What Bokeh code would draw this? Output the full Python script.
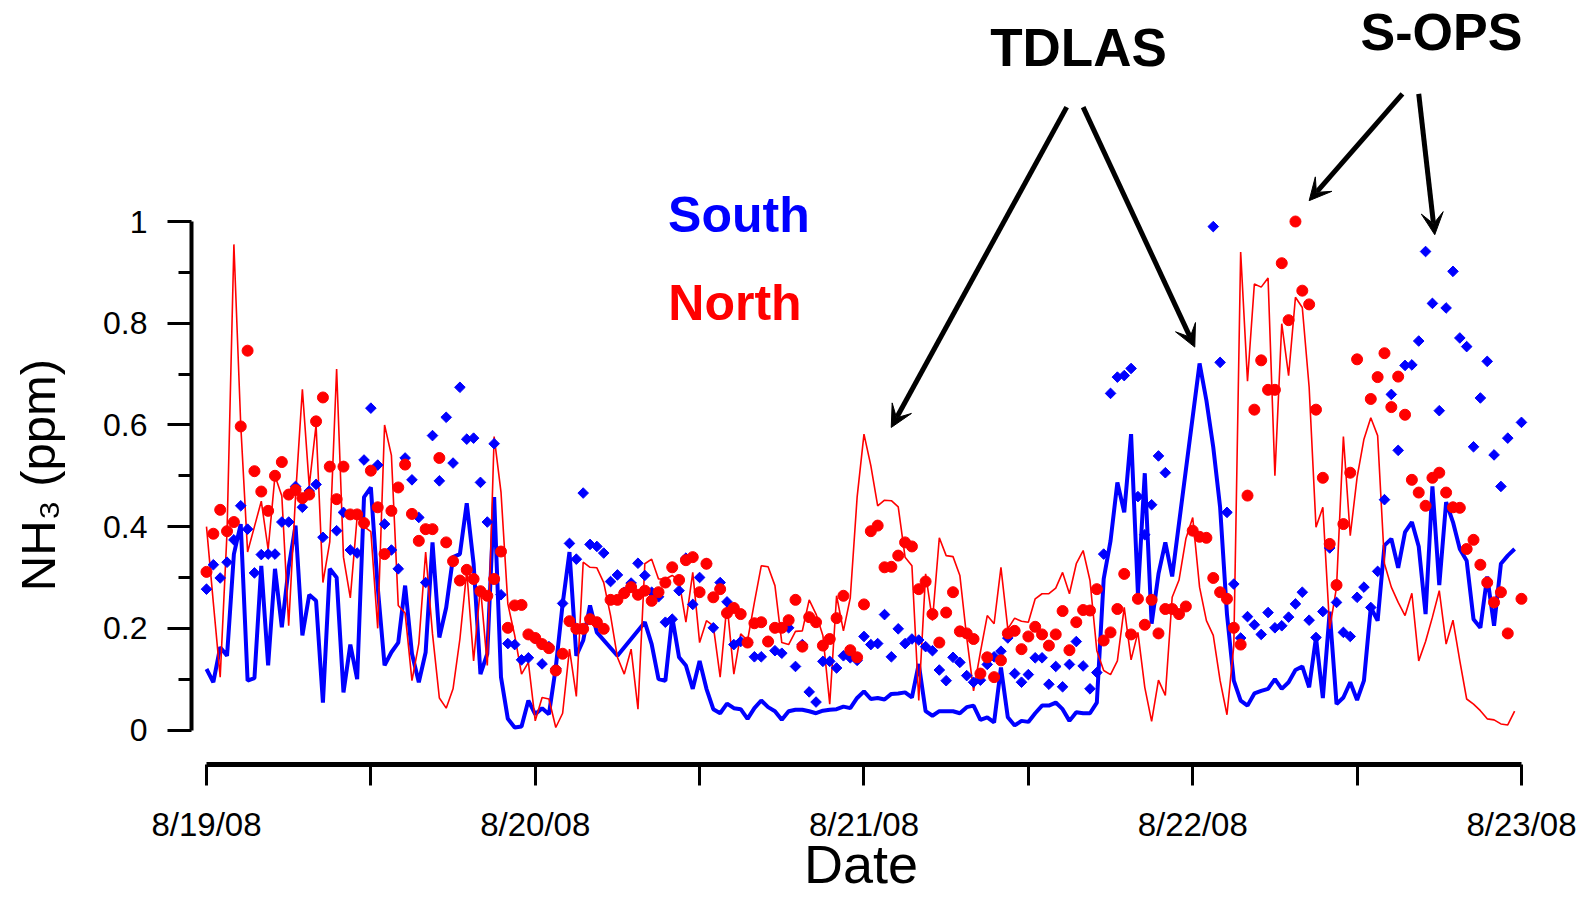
from bokeh.plotting import figure
from bokeh.models import Range1d, LinearAxis, FixedTicker, Arrow, VeeHead, Label, NumeralTickFormatter
from bokeh.embed import file_html
from bokeh.resources import INLINE


def half_hourly(start, end):
    """Sample times (hours after 8/19/08 00:00) of a 30-minute record."""
    n = int(round((end - start) / 0.5)) + 1
    return [start + 0.5 * i for i in range(n)]


# ---------------- data (hours after 8/19/08 00:00, NH3 in ppm) ----------------
south_tdlas_hours = half_hourly(0.0, 28.5) + [30.0] + half_hourly(32.0, 70.5) + half_hourly(72.5, 95.5)
south_tdlas_ppm = [
    0.12, 0.094, 0.163, 0.146, 0.346, 0.405, 0.097, 0.102, 0.323, 0.127,
    0.317, 0.202, 0.32, 0.402, 0.186, 0.266, 0.254, 0.054, 0.317, 0.30,
    0.074, 0.168, 0.10, 0.458, 0.477, 0.281, 0.127, 0.153, 0.172, 0.284,
    0.15, 0.094, 0.153, 0.369, 0.182, 0.241, 0.34, 0.346, 0.446, 0.327,
    0.11, 0.15, 0.458, 0.104, 0.022, 0.005, 0.007, 0.058, 0.031, 0.043,
    0.031, 0.123, 0.248, 0.35, 0.146, 0.176, 0.245, 0.192,
    0.146,
    0.212, 0.169, 0.10, 0.097, 0.222, 0.143, 0.127, 0.081, 0.136, 0.081,
    0.041, 0.033, 0.052, 0.043, 0.041, 0.022, 0.043, 0.058, 0.045, 0.037,
    0.02, 0.037, 0.04, 0.04, 0.037, 0.033, 0.038, 0.04, 0.041, 0.046,
    0.043, 0.063, 0.076, 0.061, 0.063, 0.06, 0.071, 0.072, 0.074, 0.064,
    0.13, 0.037, 0.028, 0.037, 0.037, 0.037, 0.033, 0.045, 0.048, 0.02,
    0.025, 0.015, 0.123, 0.025, 0.009, 0.018, 0.016, 0.033, 0.048, 0.048,
    0.054, 0.041, 0.018, 0.035, 0.033, 0.033, 0.054, 0.297, 0.372, 0.487,
    0.428, 0.582, 0.268, 0.505, 0.209, 0.307, 0.369, 0.302,
    0.721, 0.648, 0.556, 0.438, 0.228, 0.097, 0.058, 0.048, 0.072, 0.077,
    0.081, 0.10, 0.081, 0.094, 0.118, 0.125, 0.084, 0.182, 0.063, 0.233,
    0.051, 0.064, 0.094, 0.059, 0.097, 0.241, 0.215, 0.363, 0.376, 0.319,
    0.389, 0.409, 0.361, 0.228, 0.479, 0.285, 0.448, 0.409, 0.356, 0.333,
    0.218, 0.201, 0.302, 0.205, 0.327, 0.343, 0.356,
]

north_tdlas_hours = half_hourly(0.0, 95.5)
north_tdlas_ppm = [
    0.40, 0.25, 0.104, 0.39, 0.955, 0.60, 0.35, 0.40, 0.45, 0.355,
    0.50, 0.46, 0.205, 0.46, 0.67, 0.48, 0.60, 0.29, 0.37, 0.71,
    0.34, 0.26, 0.42, 0.40, 0.39, 0.20, 0.60, 0.54, 0.245, 0.23,
    0.097, 0.17, 0.35, 0.189, 0.063, 0.043, 0.081, 0.179, 0.313, 0.136,
    0.281, 0.127, 0.577, 0.468, 0.248, 0.186, 0.11, 0.133, 0.018, 0.064,
    0.061, 0.005, 0.033, 0.159, 0.066, 0.33, 0.32, 0.319, 0.29, 0.225,
    0.143, 0.11, 0.159, 0.041, 0.327, 0.336, 0.297, 0.297, 0.304, 0.294,
    0.212, 0.31, 0.172, 0.215, 0.205, 0.104, 0.248, 0.11, 0.189, 0.176,
    0.251, 0.323, 0.321, 0.284, 0.172, 0.168, 0.194, 0.195, 0.256, 0.228,
    0.186, 0.051, 0.264, 0.195, 0.26, 0.458, 0.582, 0.52, 0.441, 0.452,
    0.451, 0.439, 0.34, 0.323, 0.058, 0.307, 0.215, 0.378, 0.343, 0.341,
    0.304, 0.182, 0.077, 0.153, 0.225, 0.209, 0.32, 0.199, 0.22, 0.214,
    0.212, 0.258, 0.268, 0.268, 0.279, 0.31, 0.268, 0.327, 0.353, 0.294,
    0.156, 0.117, 0.109, 0.136, 0.241, 0.138, 0.192, 0.084, 0.017, 0.098,
    0.068, 0.261, 0.295, 0.376, 0.418, 0.281, 0.215, 0.186, 0.097, 0.03,
    0.166, 0.94, 0.686, 0.877, 0.871, 0.889, 0.50, 0.799, 0.697, 0.851,
    0.831, 0.674, 0.399, 0.438, 0.199, 0.281, 0.577, 0.382, 0.497, 0.572,
    0.614, 0.579, 0.327, 0.281, 0.251, 0.225, 0.269, 0.136, 0.174, 0.222,
    0.274, 0.169, 0.216, 0.136, 0.061, 0.051, 0.038, 0.022, 0.02, 0.012,
    0.01, 0.037,
]

south_sops_hours = half_hourly(0.0, 8.5) + half_hourly(9.5, 70.0) + half_hourly(73.5, 95.0) + [96.0]
south_sops_ppm = [
    0.277, 0.325, 0.299, 0.33, 0.374, 0.441, 0.395, 0.309, 0.345, 0.346,
    0.346, 0.409, 0.409, 0.479, 0.438, 0.47, 0.483, 0.379,
    0.392, 0.428, 0.354, 0.348, 0.531, 0.633, 0.521, 0.405, 0.354, 0.317,
    0.535, 0.492, 0.418, 0.29, 0.579, 0.49, 0.615, 0.525, 0.674, 0.572,
    0.574, 0.487, 0.409, 0.563, 0.266, 0.17, 0.168, 0.138, 0.142, 0.18,
    0.13, 0.164, 0.121, 0.249, 0.367, 0.336, 0.466, 0.365, 0.361, 0.348,
    0.292, 0.305, 0.271, 0.289, 0.328, 0.304, 0.271, 0.262, 0.212, 0.218,
    0.274, 0.338, 0.247, 0.30, 0.327, 0.201, 0.29, 0.252, 0.168, 0.174,
    0.172, 0.144, 0.144, 0.174, 0.156, 0.151, 0.201, 0.125, 0.168, 0.075,
    0.055, 0.135, 0.135, 0.122, 0.146, 0.142, 0.137, 0.184, 0.168, 0.17,
    0.227, 0.144, 0.199, 0.17, 0.179, 0.177, 0.164, 0.156, 0.118, 0.097,
    0.143, 0.133, 0.107, 0.094, 0.098, 0.129, 0.144, 0.155, 0.181, 0.111,
    0.094, 0.109, 0.142, 0.142, 0.09, 0.125, 0.085, 0.129, 0.174, 0.126,
    0.081, 0.113, 0.346, 0.662, 0.694, 0.697, 0.711, 0.459, 0.384, 0.443,
    0.539, 0.506,
    0.99, 0.723, 0.428, 0.287, 0.181, 0.223, 0.207, 0.188, 0.231, 0.201,
    0.205, 0.222, 0.248, 0.271, 0.216, 0.182, 0.233, 0.358, 0.251, 0.192,
    0.184, 0.261, 0.281, 0.241, 0.312, 0.453, 0.66, 0.55, 0.717, 0.718,
    0.765, 0.941, 0.839, 0.628, 0.83, 0.902, 0.771, 0.754, 0.557, 0.653,
    0.725, 0.541, 0.479, 0.574,
    0.605,
]

north_sops_hours = half_hourly(0.0, 84.0) + half_hourly(85.0, 95.0) + [96.0]
north_sops_ppm = [
    0.311, 0.386, 0.433, 0.391, 0.409, 0.597, 0.746, 0.509, 0.469, 0.431,
    0.50, 0.527, 0.463, 0.472, 0.456, 0.463, 0.607, 0.654, 0.518, 0.454,
    0.518, 0.424, 0.424, 0.407, 0.51, 0.438, 0.346, 0.431, 0.477, 0.522,
    0.425, 0.372, 0.395, 0.395, 0.535, 0.369, 0.332, 0.294, 0.315, 0.297,
    0.273, 0.264, 0.297, 0.351, 0.201, 0.245, 0.246, 0.188, 0.181, 0.169,
    0.161, 0.117, 0.15, 0.214, 0.199, 0.199, 0.218, 0.212, 0.199, 0.256,
    0.256, 0.269, 0.281, 0.266, 0.274, 0.254, 0.271, 0.29, 0.32, 0.295,
    0.334, 0.34, 0.271, 0.327, 0.261, 0.277, 0.23, 0.24, 0.228, 0.172,
    0.21, 0.212, 0.174, 0.201, 0.201, 0.216, 0.256, 0.164, 0.222, 0.212,
    0.166, 0.179, 0.22, 0.264, 0.157, 0.143, 0.247, 0.391, 0.402, 0.32,
    0.321, 0.343, 0.369, 0.361, 0.277, 0.292, 0.228, 0.172, 0.231, 0.271,
    0.194, 0.19, 0.179, 0.111, 0.143, 0.104, 0.137, 0.19, 0.195, 0.159,
    0.184, 0.203, 0.188, 0.166, 0.188, 0.234, 0.157, 0.212, 0.236, 0.235,
    0.277, 0.176, 0.192, 0.238, 0.307, 0.188, 0.258, 0.207, 0.256, 0.19,
    0.238, 0.238, 0.228, 0.243, 0.392, 0.38, 0.378, 0.299, 0.271, 0.258,
    0.201, 0.168, 0.461, 0.63, 0.727, 0.669, 0.669, 0.918, 0.806, 1.0,
    0.864, 0.837, 0.63, 0.496, 0.366, 0.285, 0.405, 0.506, 0.729,
    0.651, 0.694, 0.741, 0.635, 0.695, 0.62, 0.492, 0.467, 0.441, 0.496,
    0.506, 0.467, 0.438, 0.437, 0.356, 0.374, 0.325, 0.29, 0.251, 0.271,
    0.19,
    0.258,
]

x_ticks = [0, 12, 24, 36, 48, 60, 72, 84, 96]
x_tick_labels = ["8/19/08", "", "8/20/08", "", "8/21/08", "", "8/22/08", "", "8/23/08"]
y_ticks = [0, 0.2, 0.4, 0.6, 0.8, 1.0]
y_minor_ticks = [0.1, 0.3, 0.5, 0.7, 0.9]

BLUE = "#0000FF"
RED = "#FF0000"
FONT = "Liberation Sans"

# ---------------- figure ----------------
p = figure(width=1593, height=897,
           x_range=Range1d(-1.095, 96.66), y_range=Range1d(-0.0678, 1.4189),
           x_axis_type=None, y_axis_type=None,
           output_backend="svg", toolbar_location=None,
           min_border_left=191, min_border_right=63, min_border_top=8, min_border_bottom=133)
p.outline_line_color = None
p.background_fill_color = "white"
p.border_fill_color = "white"

# y axis (label padded at its end with no-break spaces so that it sits
# centred on the 0..1 part of the axis rather than on the whole frame)
yaxis = LinearAxis(ticker=FixedTicker(ticks=y_ticks, minor_ticks=y_minor_ticks),
                   formatter=NumeralTickFormatter(format="0.[0]"), bounds=(0, 1))
yaxis.axis_line_width = 4
yaxis.axis_line_color = "black"
yaxis.major_tick_in = 0
yaxis.major_tick_out = 24
yaxis.major_tick_line_width = 3
yaxis.minor_tick_in = 0
yaxis.minor_tick_out = 13
yaxis.minor_tick_line_width = 3
yaxis.major_label_text_font = FONT
yaxis.major_label_text_font_size = "32px"
yaxis.major_label_text_color = "black"
yaxis.major_label_standoff = 20
yaxis.axis_label = "NH\u2083 (ppm)" + "\u00a0" * 13
yaxis.axis_label_text_font = FONT
yaxis.axis_label_text_font_size = "49px"
yaxis.axis_label_text_font_style = "normal"
yaxis.axis_label_text_color = "black"
yaxis.axis_label_standoff = 35
p.add_layout(yaxis, "left")

# x axis
xaxis = LinearAxis(ticker=FixedTicker(ticks=x_ticks, minor_ticks=[]), bounds=(0, 96),
                   major_label_overrides={t: l for t, l in zip(x_ticks, x_tick_labels)})
xaxis.axis_line_width = 5
xaxis.axis_line_color = "black"
xaxis.major_tick_in = 0
xaxis.major_tick_out = 21
xaxis.major_tick_line_width = 3
xaxis.minor_tick_line_color = None
xaxis.major_label_text_font = FONT
xaxis.major_label_text_font_size = "33px"
xaxis.major_label_text_color = "black"
xaxis.major_label_standoff = 20
xaxis.axis_label = "Date"
xaxis.axis_label_text_font = FONT
xaxis.axis_label_text_font_size = "54px"
xaxis.axis_label_text_font_style = "normal"
xaxis.axis_label_text_color = "black"
xaxis.axis_label_standoff = -12
p.add_layout(xaxis, "below")

# series
p.line(south_tdlas_hours, south_tdlas_ppm, line_color=BLUE, line_width=4)
p.line(north_tdlas_hours, north_tdlas_ppm, line_color=RED, line_width=1.6)
p.scatter(south_sops_hours, south_sops_ppm, marker="square", size=7.5, angle=0.785398,
          fill_color=BLUE, line_color=BLUE)
p.scatter(north_sops_hours, north_sops_ppm, marker="circle", size=11,
          fill_color=RED, line_color=RED)

# annotations
p.add_layout(Label(x=63.66, y=1.342, text="TDLAS", text_font=FONT, text_font_style="bold",
                   text_font_size="53px", text_align="center", text_baseline="alphabetic",
                   text_color="black"))
p.add_layout(Label(x=90.16, y=1.372, text="S-OPS", text_font=FONT, text_font_style="bold",
                   text_font_size="52px", text_align="center", text_baseline="alphabetic",
                   text_color="black"))
p.add_layout(Label(x=38.87, y=1.012, text="South", text_font=FONT, text_font_style="bold",
                   text_font_size="50px", text_align="center", text_baseline="alphabetic",
                   text_color=BLUE))
p.add_layout(Label(x=38.58, y=0.840, text="North", text_font=FONT, text_font_style="bold",
                   text_font_size="50px", text_align="center", text_baseline="alphabetic",
                   text_color=RED))

arrows = [
    (62.8, 1.225, 49.99, 0.595),
    (64.0, 1.225, 72.15, 0.753),
    (87.31, 1.251, 80.5, 1.041),
    (88.5, 1.251, 89.67, 0.974),
]
for xs, ys, xe, ye in arrows:
    p.add_layout(Arrow(end=VeeHead(size=22, fill_color="black", line_color="black", line_width=1),
                       x_start=xs, y_start=ys, x_end=xe, y_end=ye,
                       line_color="black", line_width=5))

open("out.html", "w").write(file_html(p, INLINE))
